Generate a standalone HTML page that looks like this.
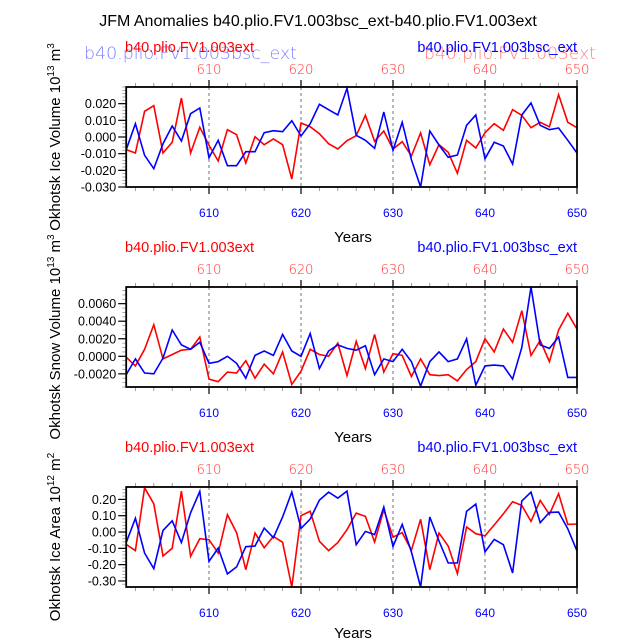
<!DOCTYPE html>
<html><head><meta charset="utf-8"><style>
html,body{margin:0;padding:0;background:#fff;}
svg{display:block;font-family:"Liberation Sans",sans-serif;}
</style></head><body>
<svg id="chart" width="638" height="639" viewBox="0 0 638 639" xmlns="http://www.w3.org/2000/svg">
<text x="318" y="26" font-size="16" text-anchor="middle">JFM Anomalies b40.plio.FV1.003bsc_ext-b40.plio.FV1.003ext</text>
<text x="84" y="59" font-size="17" fill="#8080ff" font-family="DejaVu Sans, sans-serif" font-weight="200" textLength="213" lengthAdjust="spacingAndGlyphs">b40.plio.FV1.003bsc_ext</text>
<text x="424" y="59" font-size="17" fill="#ff8080" font-family="DejaVu Sans, sans-serif" font-weight="200" textLength="172" lengthAdjust="spacingAndGlyphs">b40.plio.FV1.003ext</text>
</svg>
<script>
const years = [];
for (let y = 601; y <= 650; y++) years.push(y);
const iceVolRed = [-0.0076,-0.0096,0.0154,0.0188,-0.0096,-0.0032,0.0234,-0.0096,0.0058,-0.005,-0.0144,0.0044,0.0014,-0.0156,0.0002,-0.0046,-0.0012,-0.0046,-0.0252,0.0084,0.0062,0.002,-0.004,-0.0072,-0.0022,0.0008,0.013,-0.0026,0.0036,-0.0072,-0.0028,-0.0114,0.0024,-0.0166,-0.0046,-0.0092,-0.0218,-0.002,-0.0066,0.0026,0.008,0.004,0.0164,0.013,0.0056,0.0088,0.0062,0.0254,0.0088,0.0056];
const iceVolBlue = [-0.0076,0.008,-0.011,-0.019,-0.004,0.0066,-0.0024,0.014,0.0174,-0.0124,-0.002,-0.0172,-0.0172,-0.0088,-0.0088,0.0026,0.0038,0.0032,0.0098,0.0006,0.008,0.0196,0.0164,0.0132,0.0292,0.001,-0.002,-0.0068,0.015,-0.008,0.0088,-0.0136,-0.03,0.0036,-0.0048,-0.0122,-0.0108,0.007,0.0132,-0.013,-0.0032,-0.0054,-0.0162,0.0132,0.0204,0.007,0.0044,0.0054,-0.002,-0.0096];
const snowRed = [-0.0001,-0.0011,0.0008,0.0036,-0.0003,0.0002,0.0007,0.0008,0.0022,-0.0026,-0.0029,-0.0018,-0.0019,-0.0005,-0.0025,-0.0009,-0.002,0.0005,-0.0032,-0.0017,0.0008,0.0002,0,0.0015,-0.0022,0.0017,-0.0014,0.0025,-0.0018,0.0003,0.0001,-0.0023,-0.0003,-0.0021,-0.0022,-0.0021,-0.0028,-0.0015,-0.0006,0.002,0.0005,0.0031,0.0016,0.0052,0.0001,0.0018,-0.0006,0.003,0.0049,0.0031];
const snowBlue = [-0.0021,-0.0003,-0.0019,-0.002,-0.0002,0.003,0.0013,0.0008,0.0016,-0.0008,-0.0006,0,-0.0008,-0.0025,0.0001,0.0006,0.0001,0.0025,0.0006,0,0.0026,-0.0014,0.0006,0.0013,0.0009,0.0007,0.0012,-0.0021,-0.0003,-0.0006,0.0008,-0.0006,-0.0034,-0.0006,0.0005,-0.0006,-0.0003,0.002,-0.0033,-0.0011,-0.001,-0.0011,-0.0026,0.001,0.0079,0.0013,0.0009,0.0022,-0.0024,-0.0024];
const areaRed = [-0.076,-0.114,0.271,0.173,-0.147,-0.1,0.251,-0.149,-0.041,-0.047,-0.129,0.106,-0.004,-0.231,-0.006,-0.096,-0.027,-0.063,-0.337,0.1,0.127,-0.057,-0.114,-0.065,0.014,0.116,0.096,-0.061,0.137,-0.031,-0.004,-0.112,0.078,-0.231,-0.006,-0.086,-0.255,0.031,-0.01,-0.024,0.043,0.112,0.186,0.163,0.065,0.194,0.108,0.235,0.047,0.049];
const areaBlue = [-0.065,0.084,-0.129,-0.224,0.01,0.069,-0.065,0.118,0.249,-0.18,-0.098,-0.257,-0.214,-0.09,-0.086,0.024,-0.035,0.092,0.245,0.022,0.08,0.196,0.245,0.208,0.251,-0.078,0.004,-0.016,0.153,-0.088,0.047,-0.122,-0.337,0.092,-0.055,-0.19,-0.19,0.127,0.171,-0.122,-0.045,-0.078,-0.251,0.19,0.245,0.057,0.12,0.122,0.02,-0.116];
const xTicks = [610,620,630,640,650];
const iceVolTicks = [-0.03,-0.02,-0.01,0,0.01,0.02];
const iceVolLabels = ["-0.030","-0.020","-0.010","0.000","0.010","0.020"];
const snowTicks = [-0.002,0,0.002,0.004,0.006];
const snowLabels = ["-0.0020","0.0000","0.0020","0.0040","0.0060"];
const areaTicks = [-0.3,-0.2,-0.1,0,0.1,0.2];
const areaLabels = ["-0.30","-0.20","-0.10","0.00","0.10","0.20"];

const NS = "http://www.w3.org/2000/svg";
const svg = document.getElementById('chart');
const X0 = 126.2, X1 = 577, YMIN = 601, YMAX = 650;
const xs = v => X0 + (v - YMIN) / (YMAX - YMIN) * (X1 - X0);
function mk(tag, attrs, parent) {
  const e = document.createElementNS(NS, tag);
  for (const k in attrs) e.setAttribute(k, attrs[k]);
  (parent || svg).appendChild(e);
  return e;
}
const panels = [
  {top:87, lo:-0.030, hi:0.030, red:iceVolRed, blue:iceVolBlue, ticks:iceVolTicks, labels:iceVolLabels, minor:0.002, title:"Okhotsk Ice Volume 10", exp:"13", unit:" m", uexp:"3", name:"ice-volume"},
  {top:287, lo:-0.0035, hi:0.0079, red:snowRed, blue:snowBlue, ticks:snowTicks, labels:snowLabels, minor:0.0005, title:"Okhotsk Snow Volume 10", exp:"13", unit:" m", uexp:"3", name:"snow-volume"},
  {top:487, lo:-0.337, hi:0.276, red:areaRed, blue:areaBlue, ticks:areaTicks, labels:areaLabels, minor:0.02, title:"Okhotsk Ice Area 10", exp:"12", unit:" m", uexp:"2", name:"ice-area"}
];
panels.forEach((p, pi) => {
  const H = 100, top = p.top, bot = top + H;
  const ys = v => bot - (v - p.lo) / (p.hi - p.lo) * H;
  const g = mk('g', {});
  
  
  [610,620,630,640].forEach(t => {
    const l = mk('line', {x1:xs(t), x2:xs(t), y1:top, y2:bot, stroke:'#555', 'stroke-width':0.8, 'stroke-dasharray':'3,3'}, g);
    
    
  });
  for (let yr = 602; yr <= 650; yr += 2) {
    const major = yr % 10 === 0;
    const len = major ? 7 : 4;
    mk('line', {x1:xs(yr), x2:xs(yr), y1:top, y2:top - len, stroke:major?'#000':'#888', 'stroke-width':major?1.2:0.8}, g);
    mk('line', {x1:xs(yr), x2:xs(yr), y1:bot, y2:bot + len, stroke:major?'#000':'#888', 'stroke-width':major?1.2:0.8}, g);
  }
  for (let v = Math.ceil(p.lo / p.minor) * p.minor; v <= p.hi + 1e-9; v += p.minor) {
    mk('line', {x1:X0, x2:X0 - 4, y1:ys(v), y2:ys(v), stroke:'#999', 'stroke-width':0.8}, g);
  }
  p.ticks.forEach((t, i) => {
    mk('line', {x1:X0, x2:X0 - 8, y1:ys(t), y2:ys(t), stroke:'#000', 'stroke-width':1.2}, g);
    const tx = mk('text', {x:X0 - 10, y:ys(t) + 4.5, 'font-size':12.5, 'text-anchor':'end'}, g);
    tx.textContent = p.labels[i];
    
    
  });
  const path = arr => arr.map((v, i) => (i ? 'L' : 'M') + xs(years[i]).toFixed(1) + ',' + ys(v).toFixed(1)).join('');
  const rl = mk('path', {d:path(p.red), fill:'none', stroke:'#ff0000', 'stroke-width':1.6}, g);
  
  
  const bl = mk('path', {d:path(p.blue), fill:'none', stroke:'#0000ff', 'stroke-width':1.6}, g);
  
  
  const fr = mk('rect', {x:X0, y:top, width:X1 - X0, height:H, fill:'none', stroke:'#000', 'stroke-width':1.8}, g);
  
  
  xTicks.forEach(t => {
    const b = mk('text', {x:xs(t), y:bot + 30, 'font-size':12, fill:'#0000ff', 'text-anchor':'middle'}, g);
    b.textContent = t;
    
    
    const r = mk('text', {x:xs(t), y:top - 13, 'font-size':13, fill:'#ff3030', 'text-anchor':'middle', 'font-family':'DejaVu Sans, sans-serif', 'font-weight':'200'}, g);
    r.textContent = t;
    
    
  });
  const yt = mk('text', {x:353, y:bot + (pi === 2 ? 51 : 55), 'font-size':15, 'text-anchor':'middle'}, g);
  yt.textContent = 'Years';
  
  
  const rlab = mk('text', {x:125, y:top - 35, 'font-size':14.5, fill:'#ff0000'}, g);
  rlab.textContent = 'b40.plio.FV1.003ext';
  
  
  const blab = mk('text', {x:577, y:top - 35, 'font-size':14.5, fill:'#0000ff', 'text-anchor':'end'}, g);
  blab.textContent = 'b40.plio.FV1.003bsc_ext';
  
  
  const ya = mk('text', {x:0, y:0, 'font-size':15, 'text-anchor':'middle', transform:'translate(60,' + (top + 50) + ') rotate(-90)'}, g);
  
  
  const t1 = document.createElementNS(NS, 'tspan'); t1.textContent = p.title; ya.appendChild(t1);
  const t2 = document.createElementNS(NS, 'tspan'); t2.setAttribute('dy', '-6'); t2.setAttribute('font-size', '10'); t2.textContent = p.exp; ya.appendChild(t2);
  const t3 = document.createElementNS(NS, 'tspan'); t3.setAttribute('dy', '6'); t3.textContent = p.unit; ya.appendChild(t3);
  const t4 = document.createElementNS(NS, 'tspan'); t4.setAttribute('dy', '-6'); t4.setAttribute('font-size', '10'); t4.textContent = p.uexp; ya.appendChild(t4);
});
</script>
</body></html>
